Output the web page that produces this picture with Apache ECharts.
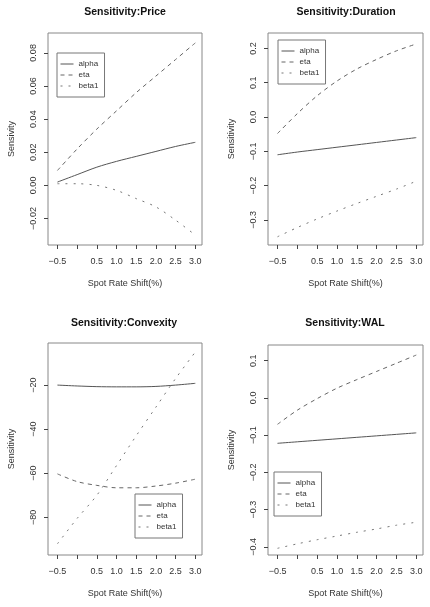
<!DOCTYPE html>
<html>
<head>
<meta charset="utf-8">
<script src="https://cdn.jsdelivr.net/npm/echarts@6/dist/echarts.min.js"></script>
<style>
  html, body { margin: 0; padding: 0; background: #fff; }
  #chart { width: 430px; height: 607px; }
</style>
</head>
<body>
<div id="chart"></div>
<script>
// spot rate shift (%) on the x axis
const shifts = [-0.5, 0, 0.5, 1.0, 1.5, 2.0, 2.5, 3.0];
const xTickVals = [-0.5, 0, 0.5, 1.0, 1.5, 2.0, 2.5, 3.0];
const xLabelVals = [-0.5, 0.5, 1.0, 1.5, 2.0, 2.5, 3.0];
const seriesNames = ['alpha', 'eta', 'beta1'];

// Sensitivity:Price
const priceAlpha = [0.002, 0.0065, 0.011, 0.0145, 0.0175, 0.0205, 0.0235, 0.026];
const priceEta = [0.009, 0.022, 0.034, 0.045, 0.056, 0.066, 0.076, 0.086];
const priceBeta1 = [0.001, 0.001, 0.000, -0.003, -0.008, -0.013, -0.021, -0.030];
const priceTicks = [-0.02, 0.00, 0.02, 0.04, 0.06, 0.08];

// Sensitivity:Duration
const durAlpha = [-0.110, -0.102, -0.095, -0.088, -0.081, -0.074, -0.067, -0.060];
const durEta = [-0.048, 0.010, 0.062, 0.105, 0.140, 0.168, 0.193, 0.213];
const durBeta1 = [-0.349, -0.322, -0.297, -0.274, -0.252, -0.231, -0.210, -0.187];
const durTicks = [-0.3, -0.2, -0.1, 0.0, 0.1, 0.2];

// Sensitivity:Convexity
const convAlpha = [-20.0, -20.4, -20.7, -20.8, -20.8, -20.6, -20.0, -19.2];
const convEta = [-60.3, -63.8, -65.5, -66.6, -66.6, -65.8, -64.5, -62.7];
const convBeta1 = [-92, -80.5, -70, -56.5, -43, -30, -17, -5];
const convTicks = [-80, -60, -40, -20];

// Sensitivity:WAL
const walAlpha = [-0.122, -0.118, -0.114, -0.110, -0.106, -0.102, -0.098, -0.094];
const walEta = [-0.071, -0.033, -0.002, 0.026, 0.049, 0.071, 0.093, 0.115];
const walBeta1 = [-0.404, -0.392, -0.381, -0.371, -0.361, -0.352, -0.342, -0.334];
const walTicks = [-0.4, -0.3, -0.2, -0.1, 0.0, 0.1];

const FONT = 'Liberation Sans, Arial, Helvetica, sans-serif';
const INK = '#333';

const panels = [
  { title: 'Sensitivity:Price', yName: 'Sensivity', data: [priceAlpha, priceEta, priceBeta1],
    ticks: priceTicks, dec: 2, ymin: -0.036, ymax: 0.092,
    grid: { left: 48, top: 33, width: 154, height: 212 }, tx: 125, ty: 12,
    legend: { left: 57, top: 53 } },
  { title: 'Sensitivity:Duration', yName: 'Sensitivity', data: [durAlpha, durEta, durBeta1],
    ticks: durTicks, dec: 1, ymin: -0.373, ymax: 0.245,
    grid: { left: 268, top: 33, width: 155, height: 212 }, tx: 346, ty: 12,
    legend: { left: 278, top: 40 } },
  { title: 'Sensitivity:Convexity', yName: 'Sensitivity', data: [convAlpha, convEta, convBeta1],
    ticks: convTicks, dec: 0, ymin: -97.1, ymax: -0.9,
    grid: { left: 48, top: 343, width: 154, height: 212 }, tx: 124, ty: 323,
    legend: { left: 135, top: 494 } },
  { title: 'Sensitivity:WAL', yName: 'Sensitivity', data: [walAlpha, walEta, walBeta1],
    ticks: walTicks, dec: 1, ymin: -0.422, ymax: 0.142,
    grid: { left: 268, top: 345, width: 155, height: 210 }, tx: 345, ty: 323,
    legend: { left: 274, top: 472 } }
];

const lineStyles = [
  { color: '#555', width: 1, type: 'solid' },
  { color: '#666', width: 1, type: [4, 4] },
  { color: '#777', width: 1, type: [2, 6] }
];

const fmt = (v, d) => v.toFixed(d).replace('-', '\u2212');

const option = {
  animation: false,
  backgroundColor: '#fff',
  grid: [], xAxis: [], yAxis: [], legend: [], series: [], graphic: []
};

panels.forEach((p, i) => {
  option.grid.push(Object.assign({ show: true, borderColor: '#888', borderWidth: 1 }, p.grid));

  option.xAxis.push({
    type: 'value', gridIndex: i, min: -0.74, max: 3.17,
    name: 'Spot Rate Shift(%)', nameLocation: 'middle', nameGap: 34,
    nameTextStyle: { fontFamily: FONT, fontSize: 9, color: INK },
    axisLine: { show: false, onZero: false },
    axisTick: { show: true, length: 4, customValues: xTickVals, lineStyle: { color: '#444' } },
    axisLabel: { customValues: xLabelVals, margin: 12, fontFamily: FONT, fontSize: 9, color: INK,
      formatter: v => fmt(v, 1) },
    splitLine: { show: false }
  });

  option.yAxis.push({
    type: 'value', gridIndex: i, min: p.ymin, max: p.ymax,
    name: p.yName, nameLocation: 'middle', nameGap: 32, nameRotate: 90,
    nameTextStyle: { fontFamily: FONT, fontSize: 9, color: INK },
    axisLine: { show: false, onZero: false },
    axisTick: { show: true, length: 4, customValues: p.ticks, lineStyle: { color: '#444' } },
    axisLabel: { customValues: p.ticks, rotate: 90, margin: 10, fontFamily: FONT, fontSize: 9, color: INK,
      formatter: v => fmt(v, p.dec) },
    splitLine: { show: false }
  });

  option.legend.push({
    left: p.legend.left, top: p.legend.top, orient: 'vertical',
    data: seriesNames, itemWidth: 13, itemHeight: 8, itemGap: 3,
    padding: [7, 6, 7, 3], borderColor: '#777', borderWidth: 1,
    backgroundColor: '#fff', selectedMode: false,
    itemStyle: { color: 'rgba(0,0,0,0)', borderWidth: 0, opacity: 0 },
    lineStyle: { width: 1 },
    textStyle: { fontFamily: FONT, fontSize: 8, color: INK }
  });

  p.data.forEach((vals, k) => {
    option.series.push({
      name: seriesNames[k], type: 'line', xAxisIndex: i, yAxisIndex: i,
      data: shifts.map((x, j) => [x, vals[j]]),
      smooth: 0.3, symbol: 'none', showSymbol: false,
      lineStyle: lineStyles[k], itemStyle: { color: lineStyles[k].color }
    });
  });

  option.graphic.push({
    type: 'text', x: p.tx, y: p.ty,
    style: { text: p.title, fill: '#111', font: 'bold 10.5px ' + FONT,
      textAlign: 'center', textVerticalAlign: 'middle' }
  });
});

const chart = echarts.init(document.getElementById('chart'));
chart.setOption(option);
</script>
</body>
</html>
